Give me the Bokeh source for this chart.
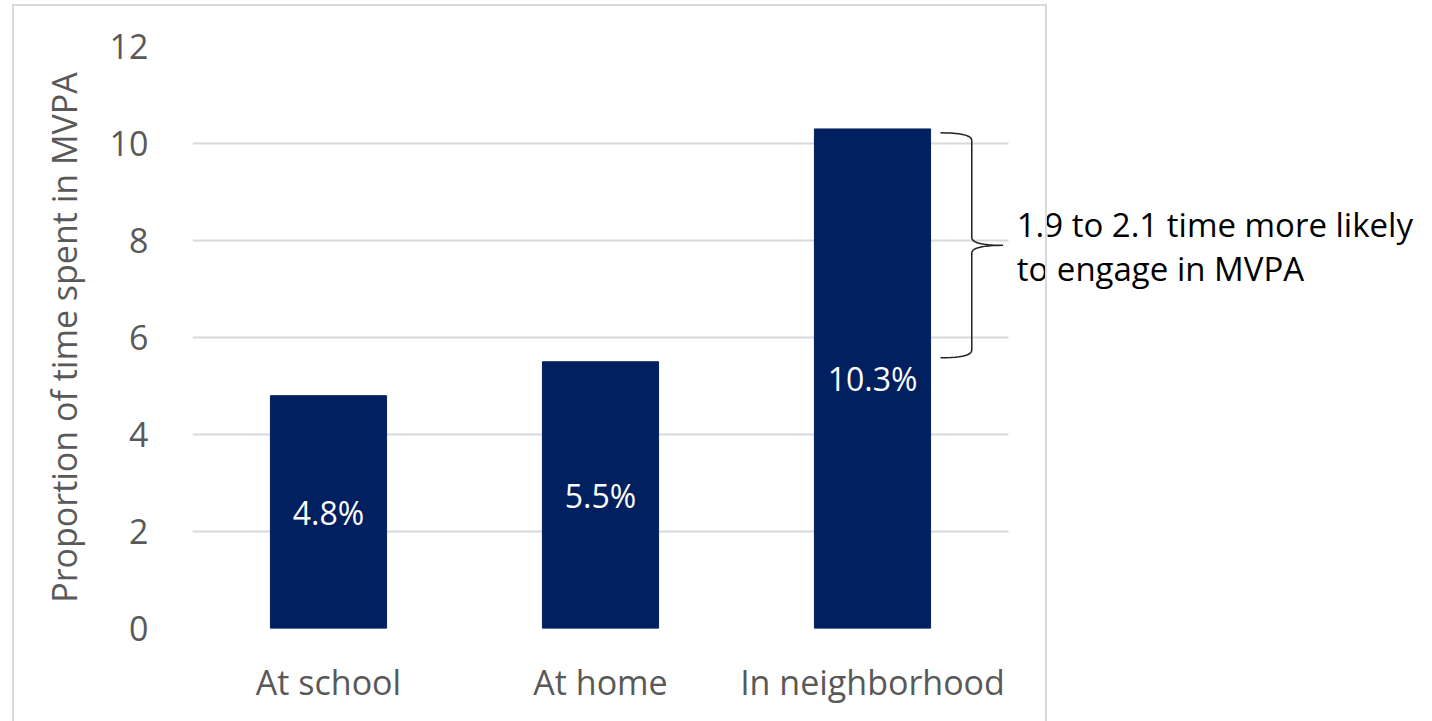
import numpy as np
from bokeh.plotting import figure
from bokeh.models import Range1d, ColumnDataSource, Label, FixedTicker, InlineStyleSheet
from bokeh.core.properties import value
from bokeh.embed import file_html
from bokeh.resources import INLINE

categories = ["At school", "At home", "In neighborhood"]
values = [4.8, 5.5, 10.3]
bar_labels = ["4.8%", "5.5%", "10.3%"]
y_ticks = [0, 2, 4, 6, 8, 10, 12]
note_lines = ["1.9 to 2.1 time more likely", "to engage in MVPA"]

FONT = "Open Sans"
BAR = "#002060"
GREY = "#595959"

# layout: plot area for the 3 categories spans 816 px; frame extends to the canvas edge
LEFT, CAT_W, W, H = 192, 816, 1432, 721
n = len(categories)
unit = CAT_W / n
x_end = (W - LEFT) / unit
pos = [i + 0.5 for i in range(n)]

src = ColumnDataSource(dict(x=pos, val=values, mid=[v / 2 for v in values], lab=bar_labels))

p = figure(x_range=Range1d(0, x_end), y_range=Range1d(0, 12), width=W, height=H,
           min_border_left=LEFT, min_border_right=0, min_border_top=46, min_border_bottom=93,
           output_backend="svg", toolbar_location=None)
p.outline_line_color = None
p.background_fill_color = "white"
p.border_fill_color = "white"

p.vbar(x="x", top="val", width=0.427, source=src, fill_color=BAR, line_color=BAR)
p.text(x="x", y="mid", text="lab", source=src, text_color="white", text_align="center",
       text_baseline="middle", text_font=value(FONT), text_font_size="32px")

# grid and axes
p.xgrid.visible = False
p.ygrid.grid_line_color = "#d9d9d9"
p.ygrid.grid_line_width = 2
p.ygrid.cross_bounds = (0, n)
p.yaxis.ticker = FixedTicker(ticks=y_ticks)
p.xaxis.ticker = FixedTicker(ticks=pos)
p.xaxis.major_label_overrides = {pv: c for pv, c in zip(pos, categories)}
for ax in (p.xaxis[0], p.yaxis[0]):
    ax.axis_line_color = None
    ax.major_tick_line_color = None
    ax.minor_tick_line_color = None
    ax.major_label_text_color = GREY
    ax.major_label_text_font = FONT
    ax.major_label_text_font_size = "34px"
p.yaxis.major_label_standoff = 38
p.xaxis.major_label_standoff = 24
p.yaxis.axis_label = "Proportion of time spent in MVPA"
p.yaxis.axis_label_text_font = FONT
p.yaxis.axis_label_text_font_size = "34px"
p.yaxis.axis_label_text_font_style = "normal"
p.yaxis.axis_label_text_color = GREY
p.yaxis.axis_label_standoff = 20

# brace beside the third bar
def qbez(a, c, b, k=12):
    t = np.linspace(0, 1, k)[:, None]
    a, c, b = map(np.array, (a, c, b))
    return ((1 - t) ** 2 * a + 2 * (1 - t) * t * c + t ** 2 * b).tolist()

top, tip, bot = 10.22, 7.9, 5.58
bx0 = pos[2] + 0.25
bxm = pos[2] + 0.365
bxt = pos[2] + 0.48
r = 0.16
pts = []
pts += qbez((bx0, top), (bxm, top), (bxm, top - r))
pts += qbez((bxm, tip + r), (bxm, tip), (bxt, tip))
pts += qbez((bxt, tip), (bxm, tip), (bxm, tip - r))
pts += qbez((bxm, bot + r), (bxm, bot), (bx0, bot))
p.line(x=[q[0] for q in pts], y=[q[1] for q in pts], line_color="#222222", line_width=1.5)

for i, t in enumerate(note_lines):
    p.add_layout(Label(x=n + 0.03, y=8.33 - i * 0.9, text=t,
                       text_font=FONT, text_font_size="33px", text_color="black",
                       text_baseline="middle"))

# chart-area border (as in the original chart frame)
p.stylesheets = [InlineStyleSheet(css="""
:host { position: relative; }
:host::after { content: ""; position: absolute; left: 12px; top: 4px; width: 1035px; height: 740px;
  border: 2px solid #d9d9d9; pointer-events: none; box-sizing: border-box; }
""")]

open("out.html", "w").write(file_html(p, INLINE))
